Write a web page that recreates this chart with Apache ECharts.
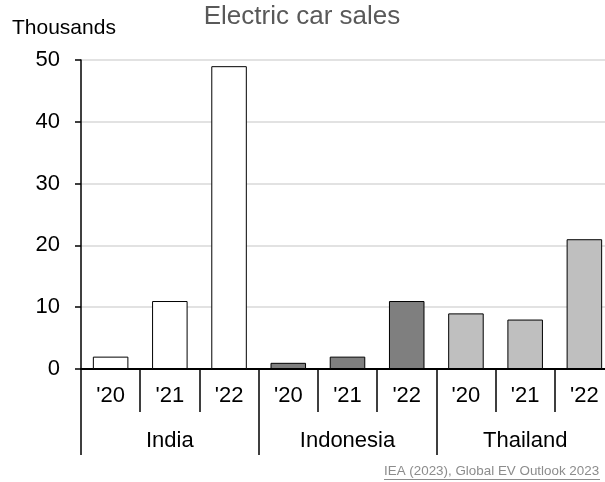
<!DOCTYPE html>
<html>
<head>
<meta charset="utf-8">
<script src="https://cdn.jsdelivr.net/npm/echarts@6/dist/echarts.min.js"></script>
<style>
  html, body { margin: 0; padding: 0; background: #ffffff; overflow: hidden; }
  /* The canvas is a little wider than the window so the last category runs past the edge */
  #chart { width: 614px; height: 482px; }
</style>
</head>
<body>
<div id="chart"></div>
<script>
// Electric car sales (thousands) by country and year
const countries = ['India', 'Indonesia', 'Thailand'];
const years = ["'20", "'21", "'22"];
const india = [2, 11, 49];
const indonesia = [1, 2, 11];
const thailand = [9, 8, 21];
const countryColors = ['#ffffff', '#7f7f7f', '#bfbfbf'];
const yTicks = [0, 10, 20, 30, 40, 50];

const FONT = 'Liberation Sans, Arial, sans-serif';
const salesByCountry = [india, indonesia, thailand];

// One bar per country-year, coloured by country
const yearLabels = [];
const barData = [];
countries.forEach((c, ci) => {
  years.forEach((y, yi) => {
    yearLabels.push(y);
    barData.push({
      value: salesByCountry[ci][yi],
      itemStyle: { color: countryColors[ci], borderColor: '#000000', borderWidth: 1 }
    });
  });
});

const chart = echarts.init(document.getElementById('chart'), null, { renderer: 'canvas' });
chart.setOption({
  animation: false,
  backgroundColor: '#ffffff',
  textStyle: { fontFamily: FONT },
  grid: { left: 81, right: 0, top: 60, bottom: 113, containLabel: false },
  title: {
    text: 'Electric car sales',
    left: 297, top: -1, textAlign: 'center',
    textStyle: { fontFamily: FONT, fontSize: 26, fontWeight: 'normal', color: '#595959' }
  },
  graphic: [
    {
      type: 'text', left: 12, top: 18,
      style: { text: 'Thousands', font: '21px ' + FONT, fill: '#000000' }
    },
    {
      type: 'text', left: 384, top: 465,
      style: { text: 'IEA (2023), Global EV Outlook 2023', font: '13.4px ' + FONT, fill: '#8c8c8c' }
    },
    {
      type: 'line',
      shape: { x1: 384, y1: 479.5, x2: 600, y2: 479.5 },
      style: { stroke: '#8c8c8c', lineWidth: 1 }
    }
  ],
  xAxis: [
    {
      type: 'category',
      data: yearLabels,
      position: 'bottom',
      boundaryGap: true,
      axisLine: { show: true, onZero: false, lineStyle: { color: '#000000', width: 2 } },
      axisTick: { show: true, length: 43, inside: false, lineStyle: { color: '#000000', width: 1.5 } },
      axisLabel: { fontSize: 22, color: '#000000', margin: 16, fontFamily: FONT, interval: 0 },
      splitLine: { show: false }
    },
    {
      type: 'category',
      data: countries,
      position: 'bottom',
      boundaryGap: true,
      axisLine: { show: false },
      axisTick: { show: true, length: 86, lineStyle: { color: '#000000', width: 1.5 } },
      axisLabel: { fontSize: 22, color: '#000000', margin: 61, fontFamily: FONT, interval: 0 },
      splitLine: { show: false }
    }
  ],
  yAxis: {
    type: 'value',
    min: yTicks[0],
    max: yTicks[yTicks.length - 1],
    interval: 10,
    axisLine: { show: true, lineStyle: { color: '#000000', width: 1.5 } },
    axisTick: { show: true, length: 6, lineStyle: { color: '#000000', width: 1.5 } },
    axisLabel: { fontSize: 22, color: '#000000', margin: 21, fontFamily: FONT },
    splitLine: { show: true, lineStyle: { color: '#d9d9d9', width: 1.5 } }
  },
  series: [
    {
      type: 'bar',
      xAxisIndex: 0,
      data: barData,
      barCategoryGap: '40%',
      z: 3
    }
  ]
});
</script>
</body>
</html>
